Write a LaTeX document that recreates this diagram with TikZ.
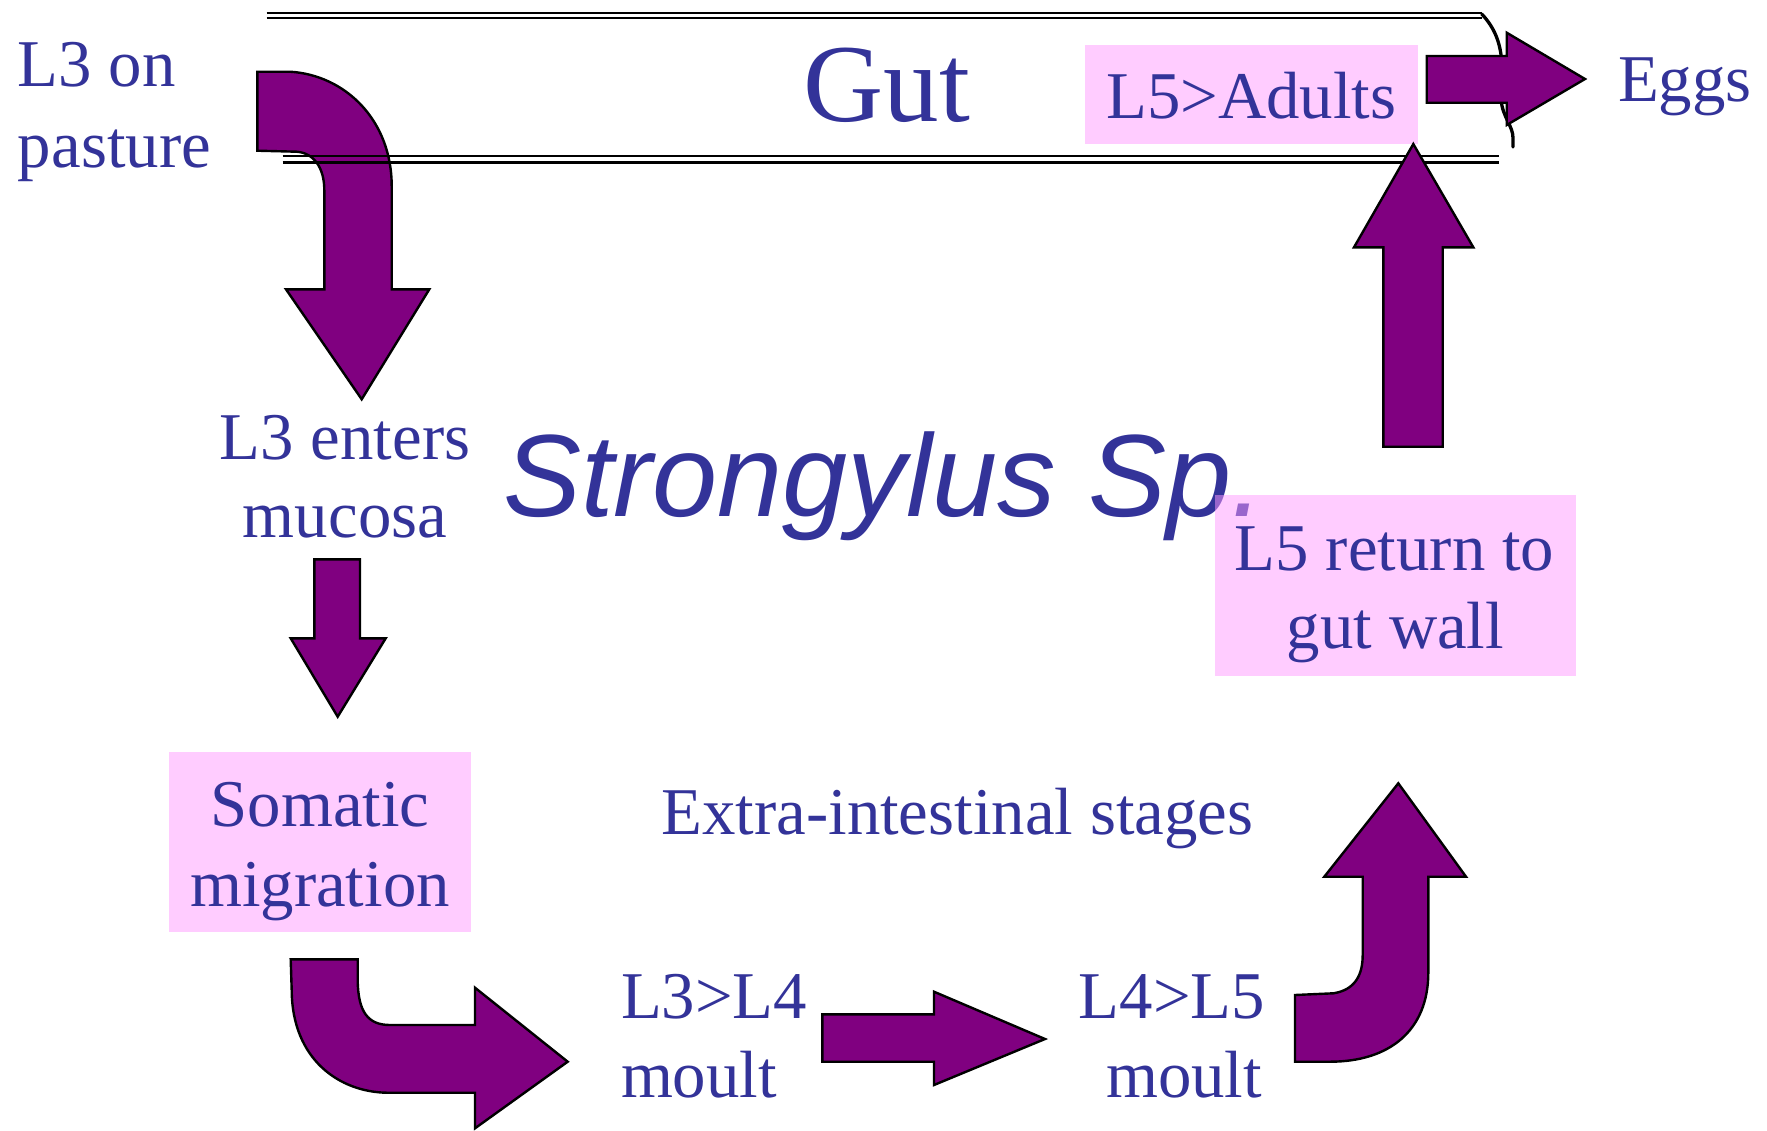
\documentclass[tikz,border=0pt]{standalone}
\usepackage{fontspec}
\setmainfont{Liberation Serif}
\newfontfamily\arialfont{Liberation Sans}
\definecolor{txtblue}{RGB}{51,51,153}
\definecolor{boxpink}{RGB}{255,204,255}
\definecolor{boxpinkdeep}{RGB}{255,153,255}
\definecolor{arrowpurple}{RGB}{128,0,128}
\begin{document}
\begin{tikzpicture}[x=0.5pt,y=-0.5pt,
  lbl/.style={inner sep=0pt, outer sep=0pt, text=txtblue, font=\fontsize{33.4}{40}\selectfont},
  blockarrow/.style={fill=arrowpurple, draw=black, line width=1.2pt, line join=miter},
  gutline/.style={draw=black, line width=1.2pt},
  pinkbox/.style={fill=boxpink, draw=none}]
\useasboundingbox (0,0) rectangle (1767,1130);

% pink boxes
\fill[pinkbox] (1085,45) rectangle (1417.7,144);
\fill[pinkbox] (169.3,751.7) rectangle (470.7,931.7);

% arrow 1: curved, from pasture down into mucosa
\draw[blockarrow] (257.3,71.7) -- (290,71.7)
  .. controls (345,75) and (392,120) .. (391.7,186.7)
  -- (391.7,289.3) -- (429.3,289.3) -- (361.7,399.3) -- (286,289.3) -- (324.3,289.3)
  -- (324.3,190) .. controls (324.3,168) and (314,153) .. (296.7,151.7)
  -- (257.3,150.7) -- cycle;

% gut walls
\draw[gutline] (266.7,13) -- (1481.7,13);
\draw[gutline] (266.7,18) -- (1481.7,18);
\draw[gutline] (282.7,156) -- (1499,156);
\draw[gutline] (282.7,162.3) -- (1499,162.3);
\draw[black, line width=1.65pt, line cap=round]
  (1481.7,14) .. controls (1495,28) and (1502,45) .. (1502,70)
  -- (1501,100) .. controls (1503,118) and (1513,126) .. (1513,138) -- (1513,147);

% arrow 2: down
\draw[blockarrow] (314.3,559.3) -- (360,559.3) -- (360,638.3) -- (385.7,638.3)
  -- (337.7,716.7) -- (290.7,638.3) -- (314.3,638.3) -- cycle;

% arrow 5: curved bottom-left
\draw[blockarrow] (290.7,959.3) -- (357.7,959.3) -- (357.7,980)
  .. controls (358,1012) and (368,1025) .. (390,1025)
  -- (475,1025) -- (475,987.7) -- (567.7,1061.7) -- (475,1128.3) -- (475,1092.7)
  -- (386.7,1092.7) .. controls (340,1092) and (292,1060) .. (291.7,990) -- cycle;

% arrow 3: horizontal
\draw[blockarrow] (822.3,1014.3) -- (934,1014.3) -- (934,991.7) -- (1045,1039)
  -- (934,1085) -- (934,1061.7) -- (822.3,1061.7) -- cycle;

% arrow 6: curved bottom-right
\draw[blockarrow] (1295,1061.7) -- (1295,995) -- (1333.3,993.3)
  .. controls (1355,990) and (1362.7,975) .. (1362.7,955)
  -- (1362.7,876.7) -- (1324.3,876.7) -- (1398.3,783.3) -- (1466,876.7) -- (1428.3,876.7)
  -- (1428.3,973.3) .. controls (1428,1030) and (1390,1061.7) .. (1330,1061.7) -- cycle;

% arrow 4: up
\draw[blockarrow] (1383.3,446.7) -- (1383.3,247.3) -- (1354,247.3) -- (1413.3,144)
  -- (1473.3,247.3) -- (1442.7,247.3) -- (1442.7,446.7) -- cycle;

% arrow 7: to eggs
\draw[blockarrow] (1426.7,56) -- (1506.7,56) -- (1506.7,32.7) -- (1585,79)
  -- (1506.7,125) -- (1506.7,102.7) -- (1426.7,102.7) -- cycle;

% titles
\node[lbl, anchor=base, font=\fontsize{55.5}{60}\selectfont] (gut) at (886.8,121.7) {Gut};
\node[lbl, anchor=base west, font=\arialfont\itshape\fontsize{58.5}{64}\selectfont] (title) at (503,516) {Strongylus Sp.};

% semi-transparent box over the title's end
\fill[boxpinkdeep, fill opacity=0.5] (1215,495) rectangle (1576,675.7);

% labels
\node[lbl, anchor=base west] (l3a) at (18,86) {L3 on};
\node[lbl, anchor=base west] (l3b) at (18,167) {pasture};
\node[lbl, anchor=base] (enta) at (345,459) {L3 enters};
\node[lbl, anchor=base] (entb) at (345,537.5) {mucosa};
\node[lbl, anchor=base] (soma) at (320,826) {Somatic};
\node[lbl, anchor=base] (somb) at (320,906.7) {migration};
\node[lbl, anchor=base west] (m34a) at (621,1018.3) {L3>L4};
\node[lbl, anchor=base west] (m34b) at (621,1097.3) {moult};
\node[lbl, anchor=base east] (m45a) at (1265,1018.3) {L4>L5};
\node[lbl, anchor=base east] (m45b) at (1262,1097.3) {moult};
\node[lbl, anchor=base west] (extra) at (661.5,834) {Extra-intestinal stages};
\node[lbl, anchor=base] (reta) at (1394.5,570) {L5 return to};
\node[lbl, anchor=base] (retb) at (1395.5,648.3) {gut wall};
\node[lbl, anchor=base] (adult) at (1251.4,118.3) {L5>Adults};
\node[lbl, anchor=base west] (eggs) at (1618,101.7) {Eggs};
\end{tikzpicture}
\end{document}
